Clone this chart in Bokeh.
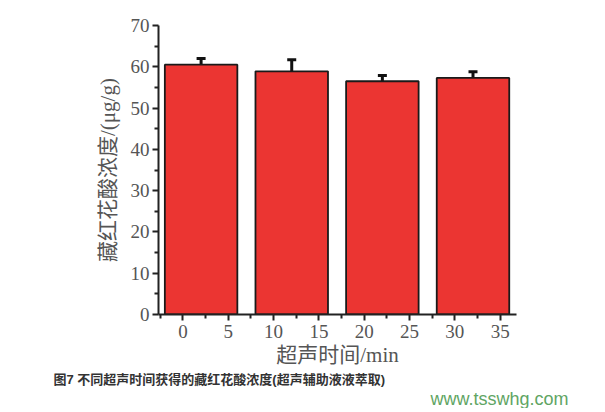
from bokeh.plotting import figure
from bokeh.models import Title, Whisker, ColumnDataSource, FixedTicker, TeeHead, Range1d
from bokeh.embed import file_html
from bokeh.resources import INLINE

# data
x_pos = [2, 12, 22, 32]
conc = [60.5, 58.9, 56.5, 57.3]
err = [1.5, 2.8, 1.4, 1.5]
x_ticks = [0, 5, 10, 15, 20, 25, 30, 35]
y_ticks = [0, 10, 20, 30, 40, 50, 60, 70]
x_title = "超声时间/min"
y_title = "藏红花酸浓度/(μg/g)"
caption = "图7 不同超声时间获得的藏红花酸浓度(超声辅助液液萃取)"
watermark = "www.tsswhg.com"

upper = [c + e for c, e in zip(conc, err)]
lower = [c - e for c, e in zip(conc, err)]
src = ColumnDataSource(dict(x=x_pos, y=conc, upper=upper, lower=lower))

p = figure(frame_width=358, frame_height=289, output_backend="svg", toolbar_location=None,
           x_range=Range1d(-2.7, 36.8), y_range=Range1d(0, 70))
p.min_border_left = 158
p.min_border_right = 81
p.min_border_top = 25
p.min_border_bottom = 0
p.outline_line_color = None
p.grid.visible = False
p.background_fill_color = "white"

p.vbar(x="x", top="y", width=8, source=src, fill_color="#EB3532",
       line_color="#1a1a1a", line_width=1.8)

w = Whisker(source=src, base="x", upper="upper", lower="lower",
            line_color="#111111", line_width=3,
            upper_head=TeeHead(size=9, line_width=3, line_color="#111111"),
            lower_head=TeeHead(size=9, line_width=3, line_color="#111111"))
p.add_layout(w)

serif = "Liberation Serif"
label_font = "Liberation Serif, Noto Sans CJK SC"
for ax in (p.xaxis[0], p.yaxis[0]):
    ax.axis_line_width = 2
    ax.axis_line_color = "#222222"
    ax.major_tick_line_color = "#222222"
    ax.minor_tick_line_color = "#222222"
    ax.major_tick_line_width = 2
    ax.minor_tick_line_width = 2
    ax.major_tick_out = 6
    ax.major_tick_in = 0
    ax.minor_tick_out = 4
    ax.minor_tick_in = 0
    ax.major_label_text_font = serif
    ax.major_label_text_font_size = "19px"
    ax.major_label_text_color = "#555555"
    ax.axis_label_text_font = label_font
    ax.axis_label_text_font_style = "normal"
    ax.axis_label_text_font_size = "21px"
    ax.axis_label_text_color = "#555555"

p.xaxis.ticker = FixedTicker(ticks=x_ticks, minor_ticks=[t + 2.5 for t in x_ticks] + [-2.5])
p.yaxis.ticker = FixedTicker(ticks=y_ticks, minor_ticks=[t + 5 for t in y_ticks[:-1]])
p.xaxis.axis_label = x_title
p.yaxis.axis_label = y_title
p.xaxis.major_label_standoff = 4
p.xaxis.axis_label_standoff = 2
p.yaxis.major_label_standoff = 3
p.yaxis.axis_label_standoff = 8

cap = Title(text=caption, align="left", offset=-105, standoff=0,
            text_font="Liberation Sans, Noto Sans CJK SC", text_font_style="bold",
            text_font_size="13px", text_color="#333333")
wm = Title(text=watermark, align="left", offset=272, standoff=0,
           text_font="Liberation Sans", text_font_style="normal",
           text_font_size="18px", text_color="#5fa564")
p.add_layout(cap, "below")
p.add_layout(wm, "below")

open("out.html", "w").write(file_html(p, INLINE))
